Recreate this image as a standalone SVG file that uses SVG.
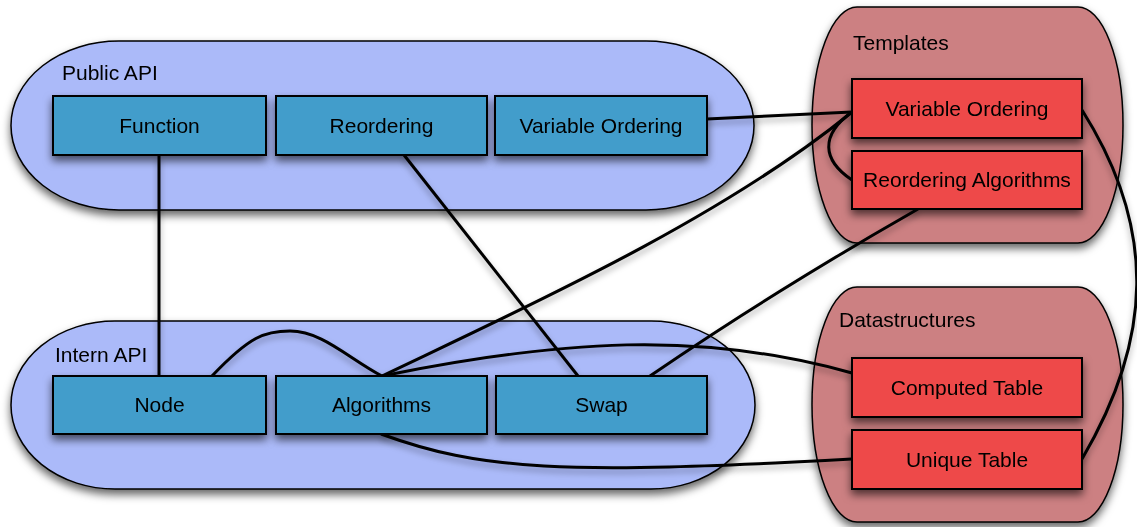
<svg xmlns="http://www.w3.org/2000/svg" width="1137" height="527" viewBox="0 0 1137 527">
  <defs>
    <filter id="shadow" filterUnits="userSpaceOnUse" x="0" y="0" width="1137" height="527">
      <feDropShadow dx="0" dy="5" stdDeviation="4" flood-color="#000" flood-opacity="0.6"/>
    </filter>
    <filter id="lineShadow" filterUnits="userSpaceOnUse" x="0" y="0" width="1137" height="527">
      <feDropShadow dx="0" dy="4" stdDeviation="3" flood-color="#000" flood-opacity="0.35"/>
    </filter>
  </defs>
  <style>
    .api { fill: #abbaf9; stroke: #000; stroke-width: 1.5; }
    .lib { fill: #cc8082; stroke: #000; stroke-width: 1.5; }
    .blue { fill: #429dcb; stroke: #000; stroke-width: 2; }
    .red { fill: #ee4a48; stroke: #000; stroke-width: 2; }
    .title { font-family: "Liberation Sans", Arial, sans-serif; font-size: 21px; fill: #000; }
    .label { font-family: "Liberation Sans", Arial, sans-serif; font-size: 21px; fill: #000; text-anchor: middle; }
    .edge { fill: none; stroke: #000; stroke-width: 3; }
  </style>
  <rect width="1137" height="527" fill="#fff"/>

  <!-- containers -->
  <g id="public-api" filter="url(#shadow)">
    <rect class="api" x="11" y="41" width="743" height="169" rx="108" ry="84.5"/>
    <text class="title" x="62" y="80">Public API</text>
  </g>
  <g id="intern-api" filter="url(#shadow)">
    <rect class="api" x="11" y="321" width="744" height="168" rx="104" ry="84"/>
    <text class="title" x="55" y="362">Intern API</text>
  </g>
  <g id="templates" filter="url(#shadow)">
    <path class="lib" d="M857,7 H1078 A45,118 0 0 1 1078,243 H857 A45,118 0 0 1 857,7 Z"/>
    <text class="title" x="853" y="50">Templates</text>
  </g>
  <g id="datastructures" filter="url(#shadow)">
    <path class="lib" d="M857,287 H1078 A45,117.5 0 0 1 1078,522 H857 A45,117.5 0 0 1 857,287 Z"/>
    <text class="title" x="839" y="327">Datastructures</text>
  </g>

  <!-- connectors -->
  <g id="connectors" filter="url(#lineShadow)">
    <path class="edge" d="M159,155 L159,376"/>
    <path class="edge" d="M404,155 L578,376"/>
    <path class="edge" d="M707,119 L852,112"/>
    <path class="edge" d="M382,376 C520,310 720,220 852,112"/>
    <path class="edge" d="M212,376 C250,336 265,331 290,331 C322,331 348,358 382,376"/>
    <path class="edge" d="M382,376 C560,340 700,330 852,373"/>
    <path class="edge" d="M381,434 C480,470 560,475 852,459"/>
    <path class="edge" d="M650,376 C720,328 820,265 918,209"/>
    <path class="edge" d="M852,112 C820,135 822,160 852,180"/>
    <path class="edge" d="M1082,110 C1158,230 1152,340 1082,459"/>
  </g>

  <!-- public API nodes -->
  <g id="function" filter="url(#shadow)">
    <rect class="blue" x="53" y="96" width="213" height="59"/>
    <text class="label" x="159.5" y="133">Function</text>
  </g>
  <g id="reordering" filter="url(#shadow)">
    <rect class="blue" x="276" y="96" width="211" height="59"/>
    <text class="label" x="381.5" y="133">Reordering</text>
  </g>
  <g id="variable-ordering" filter="url(#shadow)">
    <rect class="blue" x="495" y="96" width="212" height="59"/>
    <text class="label" x="601" y="133">Variable Ordering</text>
  </g>

  <!-- intern API nodes -->
  <g id="node" filter="url(#shadow)">
    <rect class="blue" x="53" y="376" width="213" height="58"/>
    <text class="label" x="159.5" y="412">Node</text>
  </g>
  <g id="algorithms" filter="url(#shadow)">
    <rect class="blue" x="276" y="376" width="211" height="58"/>
    <text class="label" x="381.5" y="412">Algorithms</text>
  </g>
  <g id="swap" filter="url(#shadow)">
    <rect class="blue" x="496" y="376" width="211" height="58"/>
    <text class="label" x="601.5" y="412">Swap</text>
  </g>

  <!-- template nodes -->
  <g id="tpl-variable-ordering" filter="url(#shadow)">
    <rect class="red" x="852" y="79" width="230" height="59"/>
    <text class="label" x="967" y="116">Variable Ordering</text>
  </g>
  <g id="tpl-reordering-algorithms" filter="url(#shadow)">
    <rect class="red" x="852" y="151" width="230" height="58"/>
    <text class="label" x="967" y="187">Reordering Algorithms</text>
  </g>

  <!-- datastructure nodes -->
  <g id="computed-table" filter="url(#shadow)">
    <rect class="red" x="852" y="358" width="230" height="59"/>
    <text class="label" x="967" y="395">Computed Table</text>
  </g>
  <g id="unique-table" filter="url(#shadow)">
    <rect class="red" x="852" y="430" width="230" height="59"/>
    <text class="label" x="967" y="467">Unique Table</text>
  </g>
</svg>
